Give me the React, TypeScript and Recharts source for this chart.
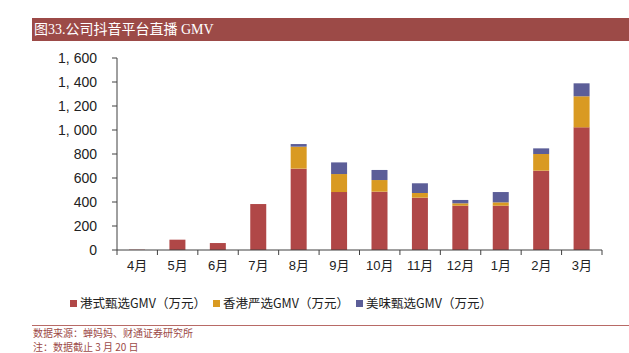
import { BarChart, Bar, XAxis, YAxis } from "recharts";

const months = ["4月", "5月", "6月", "7月", "8月", "9月", "10月", "11月", "12月", "1月", "2月", "3月"];
const gangshi = [3, 86, 58, 383, 678, 483, 486, 436, 369, 369, 661, 1022];
const xianggang = [0, 0, 0, 0, 183, 150, 97, 39, 20, 28, 139, 259];
const meiwei = [0, 0, 0, 0, 22, 97, 84, 81, 28, 86, 47, 108];
const yTicks = [0, 200, 400, 600, 800, 1000, 1200, 1400, 1600];

const series = [
  { key: "gangshi", name: "港式甄选GMV（万元）", color: "#B04747" },
  { key: "xianggang", name: "香港严选GMV（万元）", color: "#D99A22" },
  { key: "meiwei", name: "美味甄选GMV（万元）", color: "#5C5E98" },
];

const data = months.map((m, i) => ({
  month: m,
  gangshi: gangshi[i],
  xianggang: xianggang[i],
  meiwei: meiwei[i],
}));

const tickFont = "'Liberation Sans', Arial, 'Noto Sans CJK SC', sans-serif";
const cjkFont = "'Liberation Serif', 'Noto Sans CJK SC', serif";
const titleRed = "#9C4A47";

// 1,600 -> "1, 600" like the original
const fmtY = (v: number) =>
  v >= 1000 ? `${Math.floor(v / 1000)}, ${String(v % 1000).padStart(3, "0")}` : String(v);

// category label + tick marks on the category boundaries
function MonthTick(props: any) {
  const { x, y, payload } = props;
  const half = payload.offset ?? 0;
  return (
    <g>
      <line x1={x + half} y1={y - 8} x2={x + half} y2={y - 3} stroke="#404040" />
      {payload.index === 0 && (
        <line x1={x - half} y1={y - 8} x2={x - half} y2={y - 3} stroke="#404040" />
      )}
      <text x={x} y={y + 12} textAnchor="middle" fontSize={13} fill="#222" fontFamily={tickFont}>
        {payload.value}
      </text>
    </g>
  );
}

export default function App() {
  return (
    <div style={{ position: "relative", width: 629, height: 353, background: "#fff", overflow: "hidden" }}>
      <style>{`body{margin:0}`}</style>

      {/* title bar */}
      <div
        style={{
          position: "absolute",
          left: 32,
          top: 18,
          width: 597,
          height: 23,
          background: titleRed,
          color: "#fff",
          fontFamily: cjkFont,
          fontSize: 14,
          lineHeight: "23px",
          paddingLeft: 2,
          boxSizing: "border-box",
        }}
      >
        图33.公司抖音平台直播 GMV
      </div>

      <div style={{ position: "absolute", left: 0, top: 0 }}>
        <BarChart
          width={629}
          height={353}
          data={data}
          margin={{ top: 58, right: 27, left: 0, bottom: 73 }}
          barSize={16}
        >
          <XAxis
            dataKey="month"
            axisLine={{ stroke: "#404040" }}
            tickLine={false}
            tick={<MonthTick />}
            interval={0}
            height={30}
          />
          <YAxis
            domain={[0, 1600]}
            ticks={yTicks}
            tickFormatter={fmtY}
            axisLine={{ stroke: "#404040" }}
            tickLine={{ stroke: "#404040" }}
            tickSize={5}
            tickMargin={15}
            width={117}
            tick={{ fontSize: 14, fill: "#222", fontFamily: tickFont }}
            interval={0}
          />
          {series.map((s) => (
            <Bar
              key={s.key}
              dataKey={s.key}
              name={s.name}
              stackId="a"
              fill={s.color}
              isAnimationActive={false}
            />
          ))}
        </BarChart>
      </div>

      {/* legend */}
      {series.map((s, i) => (
        <div
          key={s.key}
          style={{
            position: "absolute",
            left: 70 + i * 143,
            top: 293,
            display: "flex",
            alignItems: "center",
            fontFamily: "'Noto Sans CJK SC', sans-serif",
            fontSize: 12.5,
            color: "#222",
            lineHeight: "20px",
            whiteSpace: "nowrap",
          }}
        >
          <span style={{ display: "inline-block", flexShrink: 0, width: 7, height: 7, background: s.color, marginRight: 3 }} />
          <span>{s.name}</span>
        </div>
      ))}

      {/* footer */}
      <div style={{ position: "absolute", left: 32, top: 325, width: 597, height: 1, background: "#B86A66" }} />
      <div
        style={{
          position: "absolute",
          left: 33,
          top: 326,
          fontFamily: "'Noto Sans CJK SC', sans-serif",
          fontSize: 10,
          lineHeight: "13.5px",
          color: titleRed,
        }}
      >
        <div>数据来源：蝉妈妈、财通证券研究所</div>
        <div>注：数据截止 3 月 20 日</div>
      </div>
    </div>
  );
}
